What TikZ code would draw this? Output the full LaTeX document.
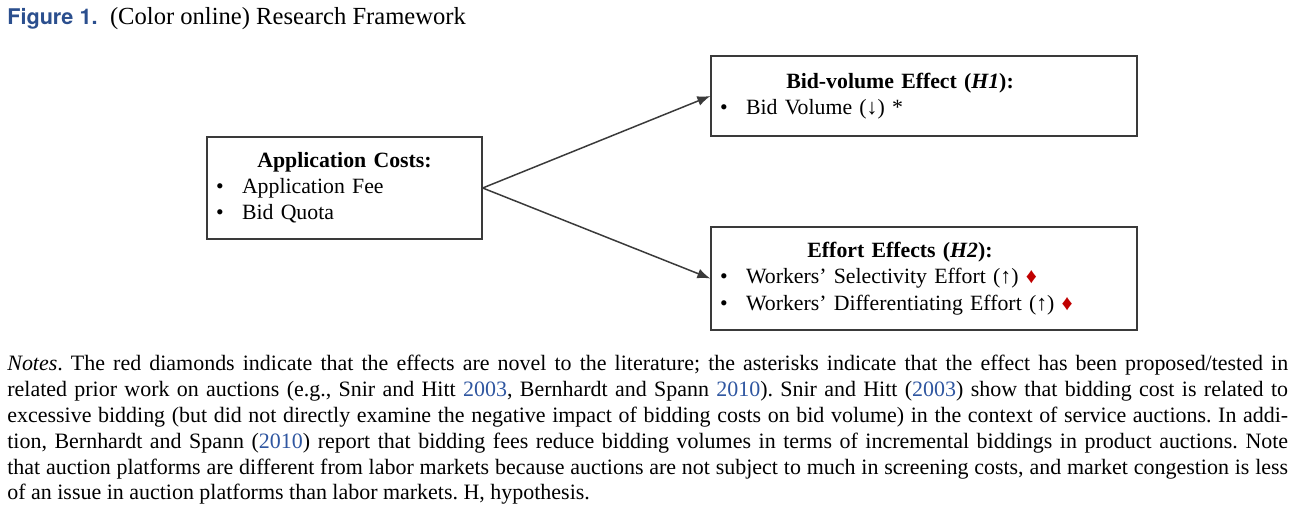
\documentclass[tikz,border=0pt]{standalone}
\usepackage{fontspec}
\setmainfont{Liberation Serif}
\newfontfamily\headsans{TeX Gyre Heros}
\usetikzlibrary{arrows.meta}

\definecolor{figblue}{HTML}{2B4F8E}
\definecolor{citeblue}{HTML}{2F56A0}
\definecolor{novelred}{HTML}{C00000}
\definecolor{framegray}{HTML}{3A3A3A}

\newcommand{\bul}[1]{\makebox[0.52cm][l]{\textbullet}#1}
\newcommand{\novel}{\textcolor{novelred}{♦}}
\newcommand{\yr}[1]{\textcolor{citeblue}{#1}}

\begin{document}
\begin{tikzpicture}[x=0.02cm,y=-0.02cm,
  framebox/.style={draw=framegray,line width=0.8pt,inner xsep=0.18cm,inner ysep=0pt,
    align=left,font=\fontsize{12.4}{14.9}\selectfont},
  link/.style={draw=framegray,line width=0.85pt,-{Latex[length=0.26cm,width=0.2cm]}}]
\useasboundingbox (0,0) rectangle (1295,507);

% caption
\node[anchor=base west,inner sep=0pt] (caption) at (7,25)
{{\headsans\bfseries\fontsize{12.3}{14}\selectfont\color{figblue}Figure 1.}\hspace{0.25cm}{\fontsize{14}{16}\selectfont (Color online) Research Framework}};

% boxes
\node[framebox,minimum width=5.5cm,minimum height=2.04cm,text width=5.14cm] (cost) at (344.5,188)
{\makebox[5.14cm]{\bfseries Application Costs:}\\ \bul{Application Fee}\\ \bul{Bid Quota}};
\node[framebox,minimum width=8.52cm,minimum height=1.6cm,text width=8.16cm] (volume) at (924,96)
{\makebox[7.2cm]{\bfseries Bid-volume Effect (\textit{H1}):}\\ \bul{Bid Volume (↓) *}};
\node[framebox,minimum width=8.52cm,minimum height=2.06cm,text width=8.16cm] (effort) at (924,278.5)
{\makebox[7.2cm]{\bfseries Effort Effects (\textit{H2}):}\\ \bul{Workers’ Selectivity Effort (↑) \novel}\\ \bul{Workers’ Differentiating Effort (↑) \novel}};

\draw[link] (cost.east) -- (volume.west);
\draw[link] (cost.east) -- (effort.west);

% notes
\node[anchor=north west,inner sep=0pt,text width=25.62cm,align=justify,
  font=\fontsize{12.5}{14.7}\selectfont] (notes) at (7,355)
{\frenchspacing\hyphenpenalty=10000
\textit{Notes}. The red diamonds indicate that the effects are novel to the literature; the asterisks indicate that the effect has been proposed/tested in\linebreak
related prior work on auctions (e.g., Snir and Hitt \yr{2003}, Bernhardt and Spann \yr{2010}). Snir and Hitt (\yr{2003}) show that bidding cost is related to\linebreak
excessive bidding (but did not directly examine the negative impact of bidding costs on bid volume) in the context of service auctions. In addi-\linebreak
tion, Bernhardt and Spann (\yr{2010}) report that bidding fees reduce bidding volumes in terms of incremental biddings in product auctions. Note\linebreak
that auction platforms are different from labor markets because auctions are not subject to much in screening costs, and market congestion is less\linebreak
of an issue in auction platforms than labor markets. H, hypothesis.};
\end{tikzpicture}
\end{document}
